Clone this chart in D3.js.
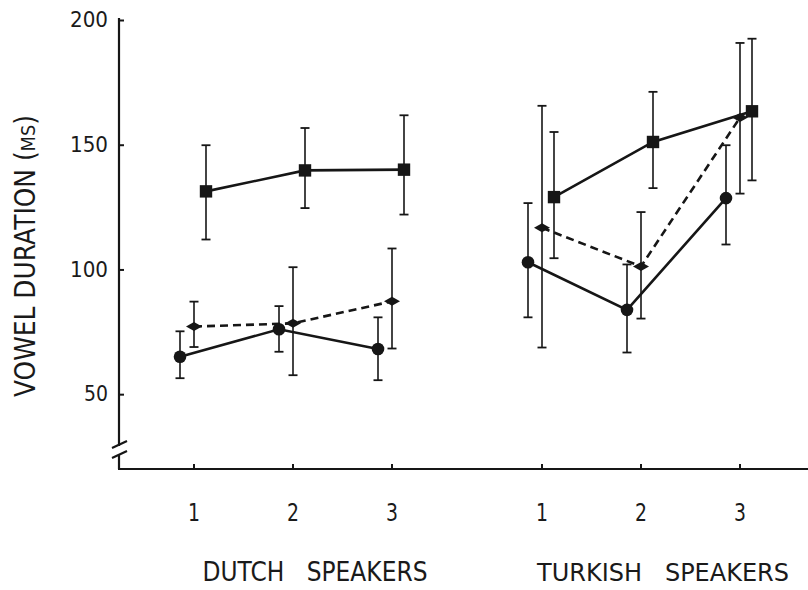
<!DOCTYPE html>
<html>
<head>
<meta charset="utf-8">
<script src="https://cdn.jsdelivr.net/npm/d3@7"></script>
<style>
  html, body { margin: 0; padding: 0; background: #fff; }
  svg { display: block; }
  text { font-family: "DejaVu Sans", sans-serif; fill: #1a1a1a; }
</style>
</head>
<body>
<svg id="chart" width="808" height="590"></svg>
<script>
// ---- data ----
const groups = ["DUTCH SPEAKERS", "TURKISH SPEAKERS"];
const speakers = ["1", "2", "3"];
const yTicks = [50, 100, 150, 200];
const yTitle = "VOWEL DURATION (";
const yTitleSmall = "MS";

// circles (solid line)
const dutchCircle   = [65.0, 76.0, 68.1];
const dutchCircleLo = [56.4, 67.0, 55.6];
const dutchCircleHi = [75.2, 85.3, 80.8];
const turkCircle    = [102.9, 83.8, 128.6];
const turkCircleLo  = [80.8, 66.7, 110.0];
const turkCircleHi  = [126.6, 102.0, 149.8];

// diamonds (dashed line)
const dutchDiamond   = [77.1, 78.4, 87.2];
const dutchDiamondLo = [68.9, 57.6, 68.3];
const dutchDiamondHi = [87.1, 100.9, 108.4];
const turkDiamond    = [116.7, 101.2, 160.9];
const turkDiamondLo  = [68.7, 80.3, 130.4];
const turkDiamondHi  = [165.6, 123.0, 190.8];

// squares (solid line)
const dutchSquare   = [131.3, 139.7, 140.0];
const dutchSquareLo = [112.0, 124.6, 122.0];
const dutchSquareHi = [149.8, 156.7, 161.8];
const turkSquare    = [129.0, 151.1, 163.4];
const turkSquareLo  = [104.5, 132.6, 135.7];
const turkSquareHi  = [155.1, 171.2, 192.5];

// ---- build series table ----
const seriesDefs = [
  { key: "circle",  shape: "circle",  dash: null, offset: -14,
    vals: [dutchCircle, turkCircle], lo: [dutchCircleLo, turkCircleLo], hi: [dutchCircleHi, turkCircleHi] },
  { key: "diamond", shape: "diamond", dash: "8,5", offset: 0,
    vals: [dutchDiamond, turkDiamond], lo: [dutchDiamondLo, turkDiamondLo], hi: [dutchDiamondHi, turkDiamondHi] },
  { key: "square",  shape: "square",  dash: null, offset: 12,
    vals: [dutchSquare, turkSquare], lo: [dutchSquareLo, turkSquareLo], hi: [dutchSquareHi, turkSquareHi] }
];

// ---- scales ----
const svg = d3.select("#chart");
const axisX0 = 119, axisY0 = 469, axisTop = 18;
const y = d3.scaleLinear().domain([20, 200]).range([469, 20]);
const xGroup = d3.scalePoint().domain(groups).range([293, 641]);
const xSpk = d3.scalePoint().domain(speakers).range([-99, 99]);
const xPos = (g, s) => xGroup(g) + xSpk(s);

const ink = "#161616";

// ---- axes ----
// y axis line with break
svg.append("line").attr("x1", axisX0).attr("x2", axisX0).attr("y1", axisTop).attr("y2", 446)
  .attr("stroke", ink).attr("stroke-width", 2.2);
svg.append("line").attr("x1", axisX0).attr("x2", axisX0).attr("y1", 455).attr("y2", axisY0)
  .attr("stroke", ink).attr("stroke-width", 2.2);
[[448, 442], [458, 452]].forEach(([a, b]) => {
  svg.append("line").attr("x1", 112).attr("y1", a).attr("x2", 127).attr("y2", b - 1)
    .attr("stroke", ink).attr("stroke-width", 2.2);
});

const yAxis = d3.axisLeft(y).tickValues(yTicks).tickSizeInner(-5).tickSizeOuter(0).tickPadding(11);
const yg = svg.append("g").attr("transform", `translate(${axisX0},0)`).call(yAxis);
yg.select(".domain").remove();
yg.selectAll(".tick line").attr("stroke", ink).attr("stroke-width", 2);
yg.selectAll(".tick text")
  .style("font-family", "'DejaVu Sans', sans-serif")
  .attr("font-size", 21).attr("fill", "#1a1a1a")
  .attr("textLength", d => d >= 100 ? 38 : 24).attr("lengthAdjust", "spacingAndGlyphs");

// x axis
svg.append("line").attr("x1", axisX0 - 1).attr("x2", 808).attr("y1", axisY0).attr("y2", axisY0)
  .attr("stroke", ink).attr("stroke-width", 2.2);
const tickData = [];
groups.forEach(g => speakers.forEach(s => tickData.push({ g, s })));
svg.selectAll(".xtick").data(tickData).join("line").attr("class", "xtick")
  .attr("x1", d => xPos(d.g, d.s)).attr("x2", d => xPos(d.g, d.s))
  .attr("y1", axisY0).attr("y2", axisY0 - 5).attr("stroke", ink).attr("stroke-width", 2);
svg.selectAll(".xlab").data(tickData).join("text").attr("class", "xlab")
  .attr("x", d => xPos(d.g, d.s)).attr("y", 521)
  .attr("text-anchor", "middle").attr("font-size", 24)
  .attr("textLength", 12).attr("lengthAdjust", "spacingAndGlyphs")
  .text(d => d.s);

// group labels (condensed look: natural width ≈ target, stretched vertically)
const groupLen = { "DUTCH SPEAKERS": 225, "TURKISH SPEAKERS": 252 };
const groupSize = { "DUTCH SPEAKERS": 22, "TURKISH SPEAKERS": 21 };
svg.selectAll(".glab").data(groups).join("g").attr("class", "glab")
  .attr("transform", g => `translate(${xGroup(g) + 22},581) scale(1,1.2)`)
  .append("text")
  .attr("x", 0).attr("y", 0)
  .attr("text-anchor", "middle").attr("font-size", g => groupSize[g])
  .attr("textLength", g => groupLen[g]).attr("lengthAdjust", "spacingAndGlyphs")
  .attr("xml:space", "preserve")
  .style("white-space", "pre")
  .text(g => g.replace(" ", "   "));

// y title
const yt = svg.append("text")
  .attr("transform", "translate(35,256) rotate(-90)")
  .attr("text-anchor", "middle").attr("font-size", 28)
  .attr("textLength", 282).attr("lengthAdjust", "spacingAndGlyphs");
yt.append("tspan").text(yTitle);
yt.append("tspan").attr("font-size", 20).text(yTitleSmall);
yt.append("tspan").text(")");

// ---- marks ----
const plot = svg.append("g");
const line = d3.line().x(d => d.x).y(d => d.y);

seriesDefs.forEach(sd => {
  groups.forEach((g, gi) => {
    const pts = speakers.map((s, i) => ({
      x: xPos(g, s) + sd.offset,
      y: y(sd.vals[gi][i]),
      lo: y(sd.lo[gi][i]),
      hi: y(sd.hi[gi][i])
    }));
    // error bars
    const eb = plot.append("g");
    eb.selectAll(".ev").data(pts).join("line")
      .attr("x1", d => d.x).attr("x2", d => d.x).attr("y1", d => d.lo).attr("y2", d => d.hi)
      .attr("stroke", ink).attr("stroke-width", 1.6);
    eb.selectAll(".cap").data(pts.flatMap(d => [d.lo, d.hi].map(v => ({ x: d.x, v })))).join("line")
      .attr("x1", d => d.x - 4.5).attr("x2", d => d.x + 4.5).attr("y1", d => d.v).attr("y2", d => d.v)
      .attr("stroke", ink).attr("stroke-width", 1.8);
    // connecting line
    plot.append("path").datum(pts).attr("d", line)
      .attr("fill", "none").attr("stroke", ink).attr("stroke-width", 2.6)
      .attr("stroke-dasharray", sd.dash);
    sd.pts = sd.pts || [];
    sd.pts.push(...pts);
  });
});

// markers on top
seriesDefs.forEach(sd => {
  const m = plot.append("g");
  if (sd.shape === "circle") {
    m.selectAll("circle").data(sd.pts).join("circle")
      .attr("cx", d => d.x).attr("cy", d => d.y).attr("r", 6.3).attr("fill", ink);
  } else if (sd.shape === "square") {
    m.selectAll("rect").data(sd.pts).join("rect")
      .attr("x", d => d.x - 6.2).attr("y", d => d.y - 6.2).attr("width", 12.4).attr("height", 12.4)
      .attr("fill", ink);
  } else {
    m.selectAll("path").data(sd.pts).join("path")
      .attr("d", d => `M${d.x - 8},${d.y} L${d.x},${d.y - 4.5} L${d.x + 8},${d.y} L${d.x},${d.y + 4.5} Z`)
      .attr("fill", ink);
  }
});
</script>
</body>
</html>
